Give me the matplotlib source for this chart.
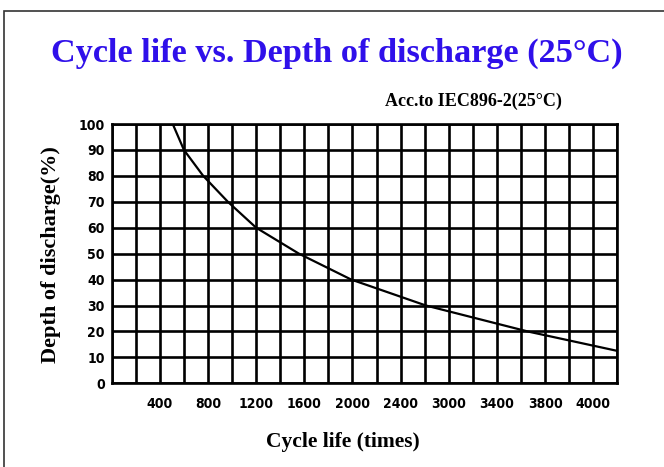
import numpy as np
import matplotlib
matplotlib.use("Agg")
import matplotlib.pyplot as plt
from matplotlib.patches import Rectangle

# cycle life (times) at each depth of discharge (%)
cycles = [507, 600, 760, 965, 1200, 1555, 1990, 2610, 3455, 4200]
dod = [100, 90, 80, 70, 60, 50, 40, 30, 20, 12.5]

xtick_pos = [400, 800, 1200, 1600, 2000, 2400, 2800, 3200, 3600, 4000]
xtick_labels = ["400", "800", "1200", "1600", "2000", "2400", "3000", "3400", "3800", "4000"]
yticks = list(range(0, 101, 10))

title = "Cycle life vs. Depth of discharge (25°C)"
subtitle = "Acc.to IEC896-2(25°C)"
serif = "Liberation Serif"
tick_font = dict(family="DejaVu Sans", stretch="condensed", weight="bold", size=10)

fig = plt.figure(figsize=(6.64, 4.67), dpi=100)
ax = fig.add_axes([111.7 / 664, 1 - 383.3 / 467, 505.6 / 664, 259.3 / 467])

ax.plot(cycles, dod, color="black", lw=1.6, solid_capstyle="butt", zorder=3)

ax.set_xlim(0, 4200)
ax.set_ylim(0, 100)
ax.set_xticks(xtick_pos)
ax.set_xticklabels(xtick_labels, fontdict=tick_font)
ax.set_xticks(np.arange(0, 4201, 200), minor=True)
ax.set_yticks(yticks)
ax.set_yticklabels([str(v) for v in yticks], fontdict=tick_font)
ax.tick_params(which="both", length=0)
ax.tick_params(axis="x", pad=10)
ax.tick_params(axis="y", pad=5)
ax.grid(which="both", color="black", lw=1.9)
ax.set_axisbelow(True)
for s in ax.spines.values():
    s.set_linewidth(1.9)

fig.text(336.7 / 664, 1 - 61.7 / 467, title, ha="center", va="baseline",
         family=serif, weight="bold", size=24.7, color="#2f10ea")
fig.text(561.7 / 664, 1 - 105.5 / 467, subtitle, ha="right", va="baseline",
         family=serif, weight="bold", size=13, color="black")
fig.text(343 / 664, 1 - 446.7 / 467, "Cycle life (times)", ha="center", va="baseline",
         family=serif, weight="bold", size=15.5, color="black")
fig.text(51 / 664, 1 - 255 / 467, "Depth of discharge(%)", ha="center", va="center",
         rotation=90, family=serif, weight="bold", size=16, color="black")

# outer frame of the datasheet panel
fig.add_artist(Rectangle((4.3 / 664, -0.2), 1.2, 1.2 - 10.7 / 467, transform=fig.transFigure,
                         fill=False, edgecolor="#333333", lw=1.2))

fig.savefig("out.png", dpi=100)
